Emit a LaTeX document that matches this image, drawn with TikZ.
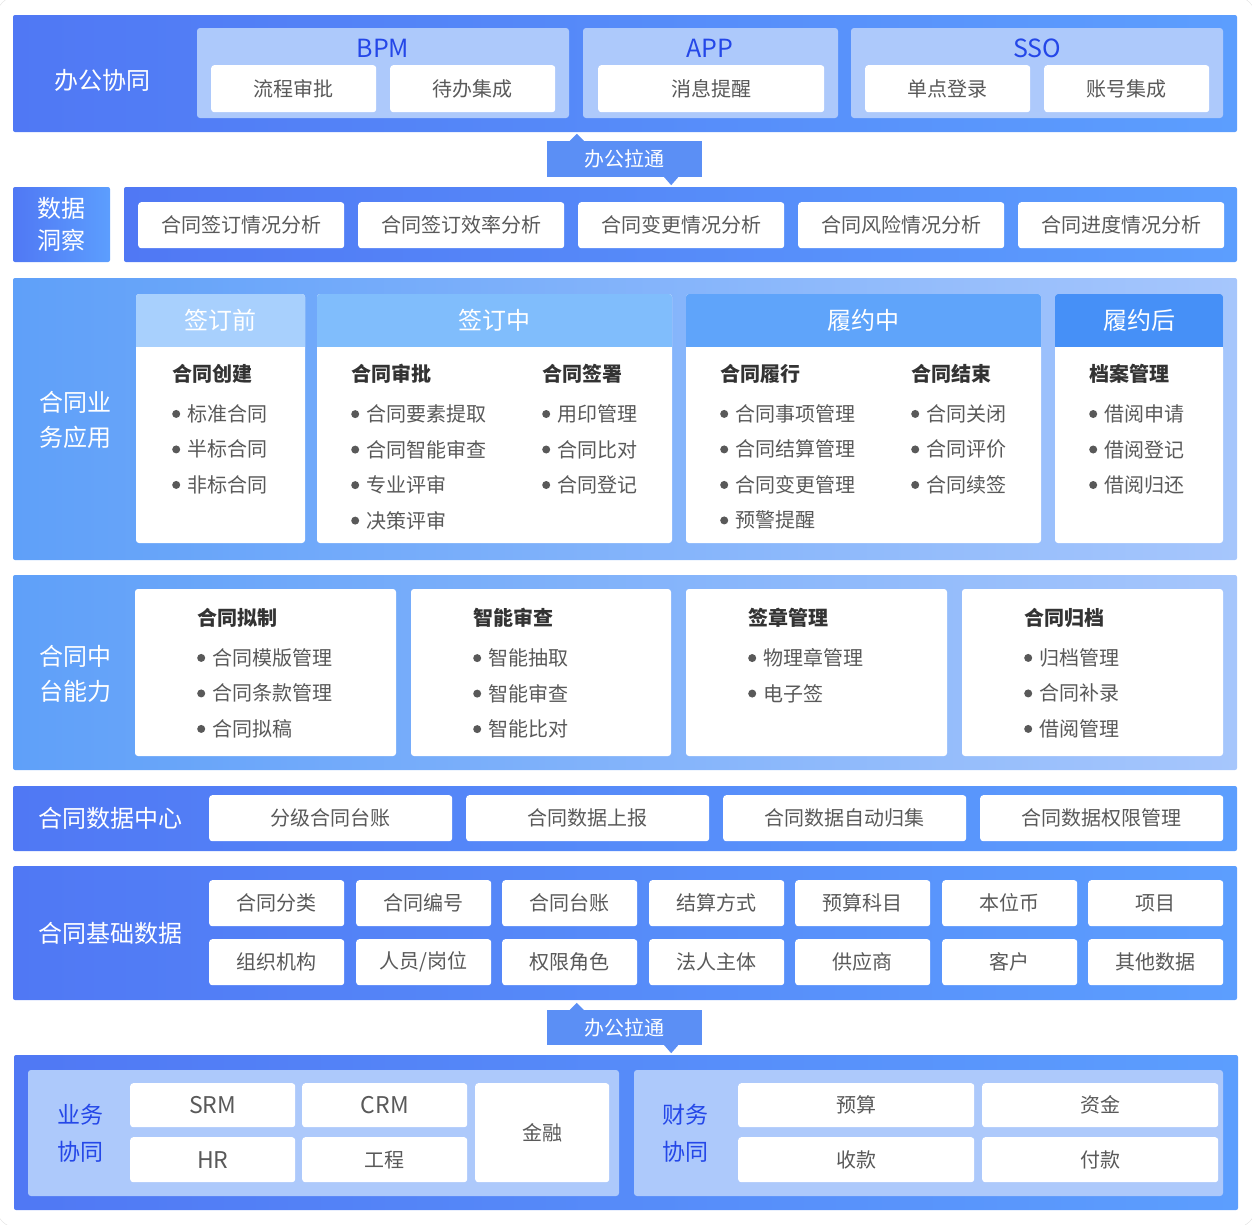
\documentclass[tikz,border=0pt]{standalone}
\usepackage{fontspec}
\setmainfont{Noto Sans CJK SC}
\usepackage{xcolor}
\usepackage{tikz}
\definecolor{bandL}{HTML}{5078F4}
\definecolor{bandR}{HTML}{5C9EFE}
\definecolor{midL}{HTML}{5FA0F9}
\definecolor{midR}{HTML}{A6C6FC}
\definecolor{panelC}{HTML}{ADC9FB}
\definecolor{tagC}{HTML}{5B8FF5}
\definecolor{titleB}{HTML}{2447E8}
\definecolor{txtG}{HTML}{595959}
\definecolor{headG}{HTML}{333333}
\definecolor{hdA}{HTML}{A8D0FD}
\definecolor{hdB}{HTML}{80BDFC}
\definecolor{hdC}{HTML}{5FA4FA}
\definecolor{hdD}{HTML}{4690F7}
\newcommand{\bul}{\tikz[baseline=0pt]\fill[txtG] (0pt,7.5pt) circle (4pt);\hspace{7pt}}

\begin{document}
\begin{tikzpicture}[x=1pt,y=-1pt,
  band/.style={rounded corners=2pt,left color=bandL,right color=bandR},
  midband/.style={rounded corners=2pt,left color=midL,right color=midR},
  panel/.style={fill=panelC,rounded corners=3pt},
  wbox/.style={fill=white,rounded corners=3pt,anchor=north west,inner sep=0pt,text=txtG,font=\fontsize{20}{20}\selectfont},
  latin/.style={font=\fontsize{23}{23}\selectfont},
  lbl/.style={text=white,align=center,font=\fontsize{24}{35}\selectfont},
  ttl/.style={text=titleB,font=\fontsize{25}{25}\selectfont},
  hdr/.style={text=white,font=\fontsize{24}{24}\selectfont},
  tagbox/.style={fill=tagC,text=white,inner sep=0pt,minimum width=155pt,font=\fontsize{20}{20}\selectfont},
  lst/.style={anchor=north west,align=left,inner sep=0pt,text=txtG,font=\fontsize{20}{35.5}\selectfont}]
\useasboundingbox (0,0) rectangle (1252,1224);
\draw [black!12,rounded corners=22pt] (-4,-4) rectangle (1256,1228);
% 办公协同
\path [band] (13,15) rectangle (1237,132);
\node [lbl] (bgxt) at (102,80) {办公协同};
\fill [panel] (197,28) rectangle (569,118);
\node [ttl] (bpm) at (383,48) {BPM};
\node [wbox,minimum width=165pt,minimum height=47pt] (lcsp) at (211,65) {流程审批};
\node [wbox,minimum width=165pt,minimum height=47pt] (dbjc) at (390,65) {待办集成};
\fill [panel] (583,28) rectangle (838,118);
\node [ttl] (app) at (710,48) {APP};
\node [wbox,minimum width=226pt,minimum height=47pt] (xxtx) at (598,65) {消息提醒};
\fill [panel] (851,28) rectangle (1223,118);
\node [ttl] (sso) at (1037,48) {SSO};
\node [wbox,minimum width=165pt,minimum height=47pt] (ddbl) at (865,65) {单点登录};
\node [wbox,minimum width=165pt,minimum height=47pt] (zhjc) at (1044,65) {账号集成};
% 办公拉通
\node [tagbox,minimum height=36pt] (lt1) at (624.5,159) {办公拉通};
\fill [tagC] ([xshift=23pt]lt1.north west) -- ([xshift=30pt,yshift=7pt]lt1.north west) -- ([xshift=37pt]lt1.north west) -- cycle;
\fill [tagC] ([xshift=-38pt]lt1.south east) -- ([xshift=-31pt,yshift=-8pt]lt1.south east) -- ([xshift=-24pt]lt1.south east) -- cycle;
% 数据洞察
\path [band] (13,187) rectangle (110,262);
\node [lbl,font=\fontsize{24}{32}\selectfont] (sjdc) at (61.5,224.5) {数据\\洞察};
\path [band] (124,187) rectangle (1237,262);
\node [wbox,minimum width=206pt,minimum height=46pt] (fx1) at (138,202) {合同签订情况分析};
\node [wbox,minimum width=206pt,minimum height=46pt] (fx2) at (358,202) {合同签订效率分析};
\node [wbox,minimum width=206pt,minimum height=46pt] (fx3) at (578,202) {合同变更情况分析};
\node [wbox,minimum width=206pt,minimum height=46pt] (fx4) at (798,202) {合同风险情况分析};
\node [wbox,minimum width=206pt,minimum height=46pt] (fx5) at (1018,202) {合同进度情况分析};
% 合同业务应用
\path [midband] (13,278) rectangle (1237,560);
\node [lbl] (ywyy) at (75,420) {合同业\\务应用};
\fill [white,rounded corners=3pt] (136,294) rectangle (305,543);
\fill [hdA,rounded corners=3pt] (136,294) rectangle (305,352);
\fill [white] (136,347) rectangle (305,353);
\node [hdr] (qdq) at (220.5,320.5) {签订前};
\fill [white,rounded corners=3pt] (317,294) rectangle (672,543);
\fill [hdB,rounded corners=3pt] (317,294) rectangle (672,352);
\fill [white] (317,347) rectangle (672,353);
\node [hdr] (qdz) at (494.5,320.5) {签订中};
\fill [white,rounded corners=3pt] (686,294) rectangle (1041,543);
\fill [hdC,rounded corners=3pt] (686,294) rectangle (1041,352);
\fill [white] (686,347) rectangle (1041,353);
\node [hdr] (lyz) at (863.5,320.5) {履约中};
\fill [white,rounded corners=3pt] (1055,294) rectangle (1223,543);
\fill [hdD,rounded corners=3pt] (1055,294) rectangle (1223,352);
\fill [white] (1055,347) rectangle (1223,353);
\node [hdr] (lyh) at (1139,320.5) {履约后};
\node [lst] (htcj) at (172,364) {{\color{headG}\bfseries 合同创建}\\[4.5pt]\bul 标准合同\\\bul 半标合同\\\bul 非标合同};
\node [lst] (htsp) at (351,364) {{\color{headG}\bfseries 合同审批}\\[4.5pt]\bul 合同要素提取\\\bul 合同智能审查\\\bul 专业评审\\\bul 决策评审};
\node [lst] (htqs) at (542,364) {{\color{headG}\bfseries 合同签署}\\[4.5pt]\bul 用印管理\\\bul 合同比对\\\bul 合同登记};
\node [lst] (htlx) at (720,364) {{\color{headG}\bfseries 合同履行}\\[4.5pt]\bul 合同事项管理\\\bul 合同结算管理\\\bul 合同变更管理\\\bul 预警提醒};
\node [lst] (htjs) at (911,364) {{\color{headG}\bfseries 合同结束}\\[4.5pt]\bul 合同关闭\\\bul 合同评价\\\bul 合同续签};
\node [lst] (dagl) at (1089,364) {{\color{headG}\bfseries 档案管理}\\[4.5pt]\bul 借阅申请\\\bul 借阅登记\\\bul 借阅归还};
% 合同中台能力
\path [midband] (13,575) rectangle (1237,770);
\node [lbl] (ztnl) at (75,674) {合同中\\台能力};
\fill [white,rounded corners=3pt] (135,589) rectangle (396,756);
\fill [white,rounded corners=3pt] (411,589) rectangle (671,756);
\fill [white,rounded corners=3pt] (686,589) rectangle (947,756);
\fill [white,rounded corners=3pt] (962,589) rectangle (1223,756);
\node [lst] (htnz) at (197,608) {{\color{headG}\bfseries 合同拟制}\\[4.5pt]\bul 合同模版管理\\\bul 合同条款管理\\\bul 合同拟稿};
\node [lst] (znsc) at (473,608) {{\color{headG}\bfseries 智能审查}\\[4.5pt]\bul 智能抽取\\\bul 智能审查\\\bul 智能比对};
\node [lst] (qzgl) at (748,608) {{\color{headG}\bfseries 签章管理}\\[4.5pt]\bul 物理章管理\\\bul 电子签};
\node [lst] (htgd) at (1024,608) {{\color{headG}\bfseries 合同归档}\\[4.5pt]\bul 归档管理\\\bul 合同补录\\\bul 借阅管理};
% 合同数据中心
\path [band] (13,786) rectangle (1237,851);
\node [lbl] (sjzx) at (110,818) {合同数据中心};
\node [wbox,minimum width=243pt,minimum height=46pt] (tz) at (209,795) {分级合同台账};
\node [wbox,minimum width=243pt,minimum height=46pt] (sb) at (466,795) {合同数据上报};
\node [wbox,minimum width=243pt,minimum height=46pt] (gj) at (723,795) {合同数据自动归集};
\node [wbox,minimum width=243pt,minimum height=46pt] (qx) at (980,795) {合同数据权限管理};
% 合同基础数据
\path [band] (13,866) rectangle (1237,1000);
\node [lbl] (jcsj) at (110,933) {合同基础数据};
\node [wbox,minimum width=135pt,minimum height=46pt] (b11) at (209,880) {合同分类};
\node [wbox,minimum width=135pt,minimum height=46pt] (b12) at (356,880) {合同编号};
\node [wbox,minimum width=135pt,minimum height=46pt] (b13) at (502,880) {合同台账};
\node [wbox,minimum width=135pt,minimum height=46pt] (b14) at (649,880) {结算方式};
\node [wbox,minimum width=135pt,minimum height=46pt] (b15) at (795,880) {预算科目};
\node [wbox,minimum width=135pt,minimum height=46pt] (b16) at (942,880) {本位币};
\node [wbox,minimum width=135pt,minimum height=46pt] (b17) at (1088,880) {项目};
\node [wbox,minimum width=135pt,minimum height=46pt] (b21) at (209,939) {组织机构};
\node [wbox,minimum width=135pt,minimum height=46pt] (b22) at (356,939) {人员/岗位};
\node [wbox,minimum width=135pt,minimum height=46pt] (b23) at (502,939) {权限角色};
\node [wbox,minimum width=135pt,minimum height=46pt] (b24) at (649,939) {法人主体};
\node [wbox,minimum width=135pt,minimum height=46pt] (b25) at (795,939) {供应商};
\node [wbox,minimum width=135pt,minimum height=46pt] (b26) at (942,939) {客户};
\node [wbox,minimum width=135pt,minimum height=46pt] (b27) at (1088,939) {其他数据};
% 办公拉通
\node [tagbox,minimum height=35pt] (lt2) at (624.5,1027.5) {办公拉通};
\fill [tagC] ([xshift=23pt]lt2.north west) -- ([xshift=30pt,yshift=7pt]lt2.north west) -- ([xshift=37pt]lt2.north west) -- cycle;
\fill [tagC] ([xshift=-38pt]lt2.south east) -- ([xshift=-31pt,yshift=-8pt]lt2.south east) -- ([xshift=-24pt]lt2.south east) -- cycle;
% 业务协同 / 财务协同
\path [band] (14,1055) rectangle (1238,1210);
\fill [panel] (28,1070) rectangle (619,1196);
\node [lbl,text=titleB,font=\fontsize{23}{37}\selectfont] (ywxt) at (80,1133) {业务\\协同};
\node [wbox,latin,minimum width=165pt,minimum height=44pt] (srm) at (130,1083) {SRM};
\node [wbox,latin,minimum width=165pt,minimum height=44pt] (crm) at (302,1083) {CRM};
\node [wbox,latin,minimum width=165pt,minimum height=45pt] (hr) at (130,1137) {HR};
\node [wbox,minimum width=165pt,minimum height=45pt] (gc) at (302,1137) {工程};
\node [wbox,minimum width=134pt,minimum height=99pt] (jr) at (475,1083) {金融};
\fill [panel] (634,1070) rectangle (1223,1196);
\node [lbl,text=titleB,font=\fontsize{23}{37}\selectfont] (cwxt) at (685,1133) {财务\\协同};
\node [wbox,minimum width=236pt,minimum height=44pt] (ys) at (738,1083) {预算};
\node [wbox,minimum width=236pt,minimum height=44pt] (zj) at (982,1083) {资金};
\node [wbox,minimum width=236pt,minimum height=45pt] (sk) at (738,1137) {收款};
\node [wbox,minimum width=236pt,minimum height=45pt] (fk) at (982,1137) {付款};
\end{tikzpicture}
\end{document}
